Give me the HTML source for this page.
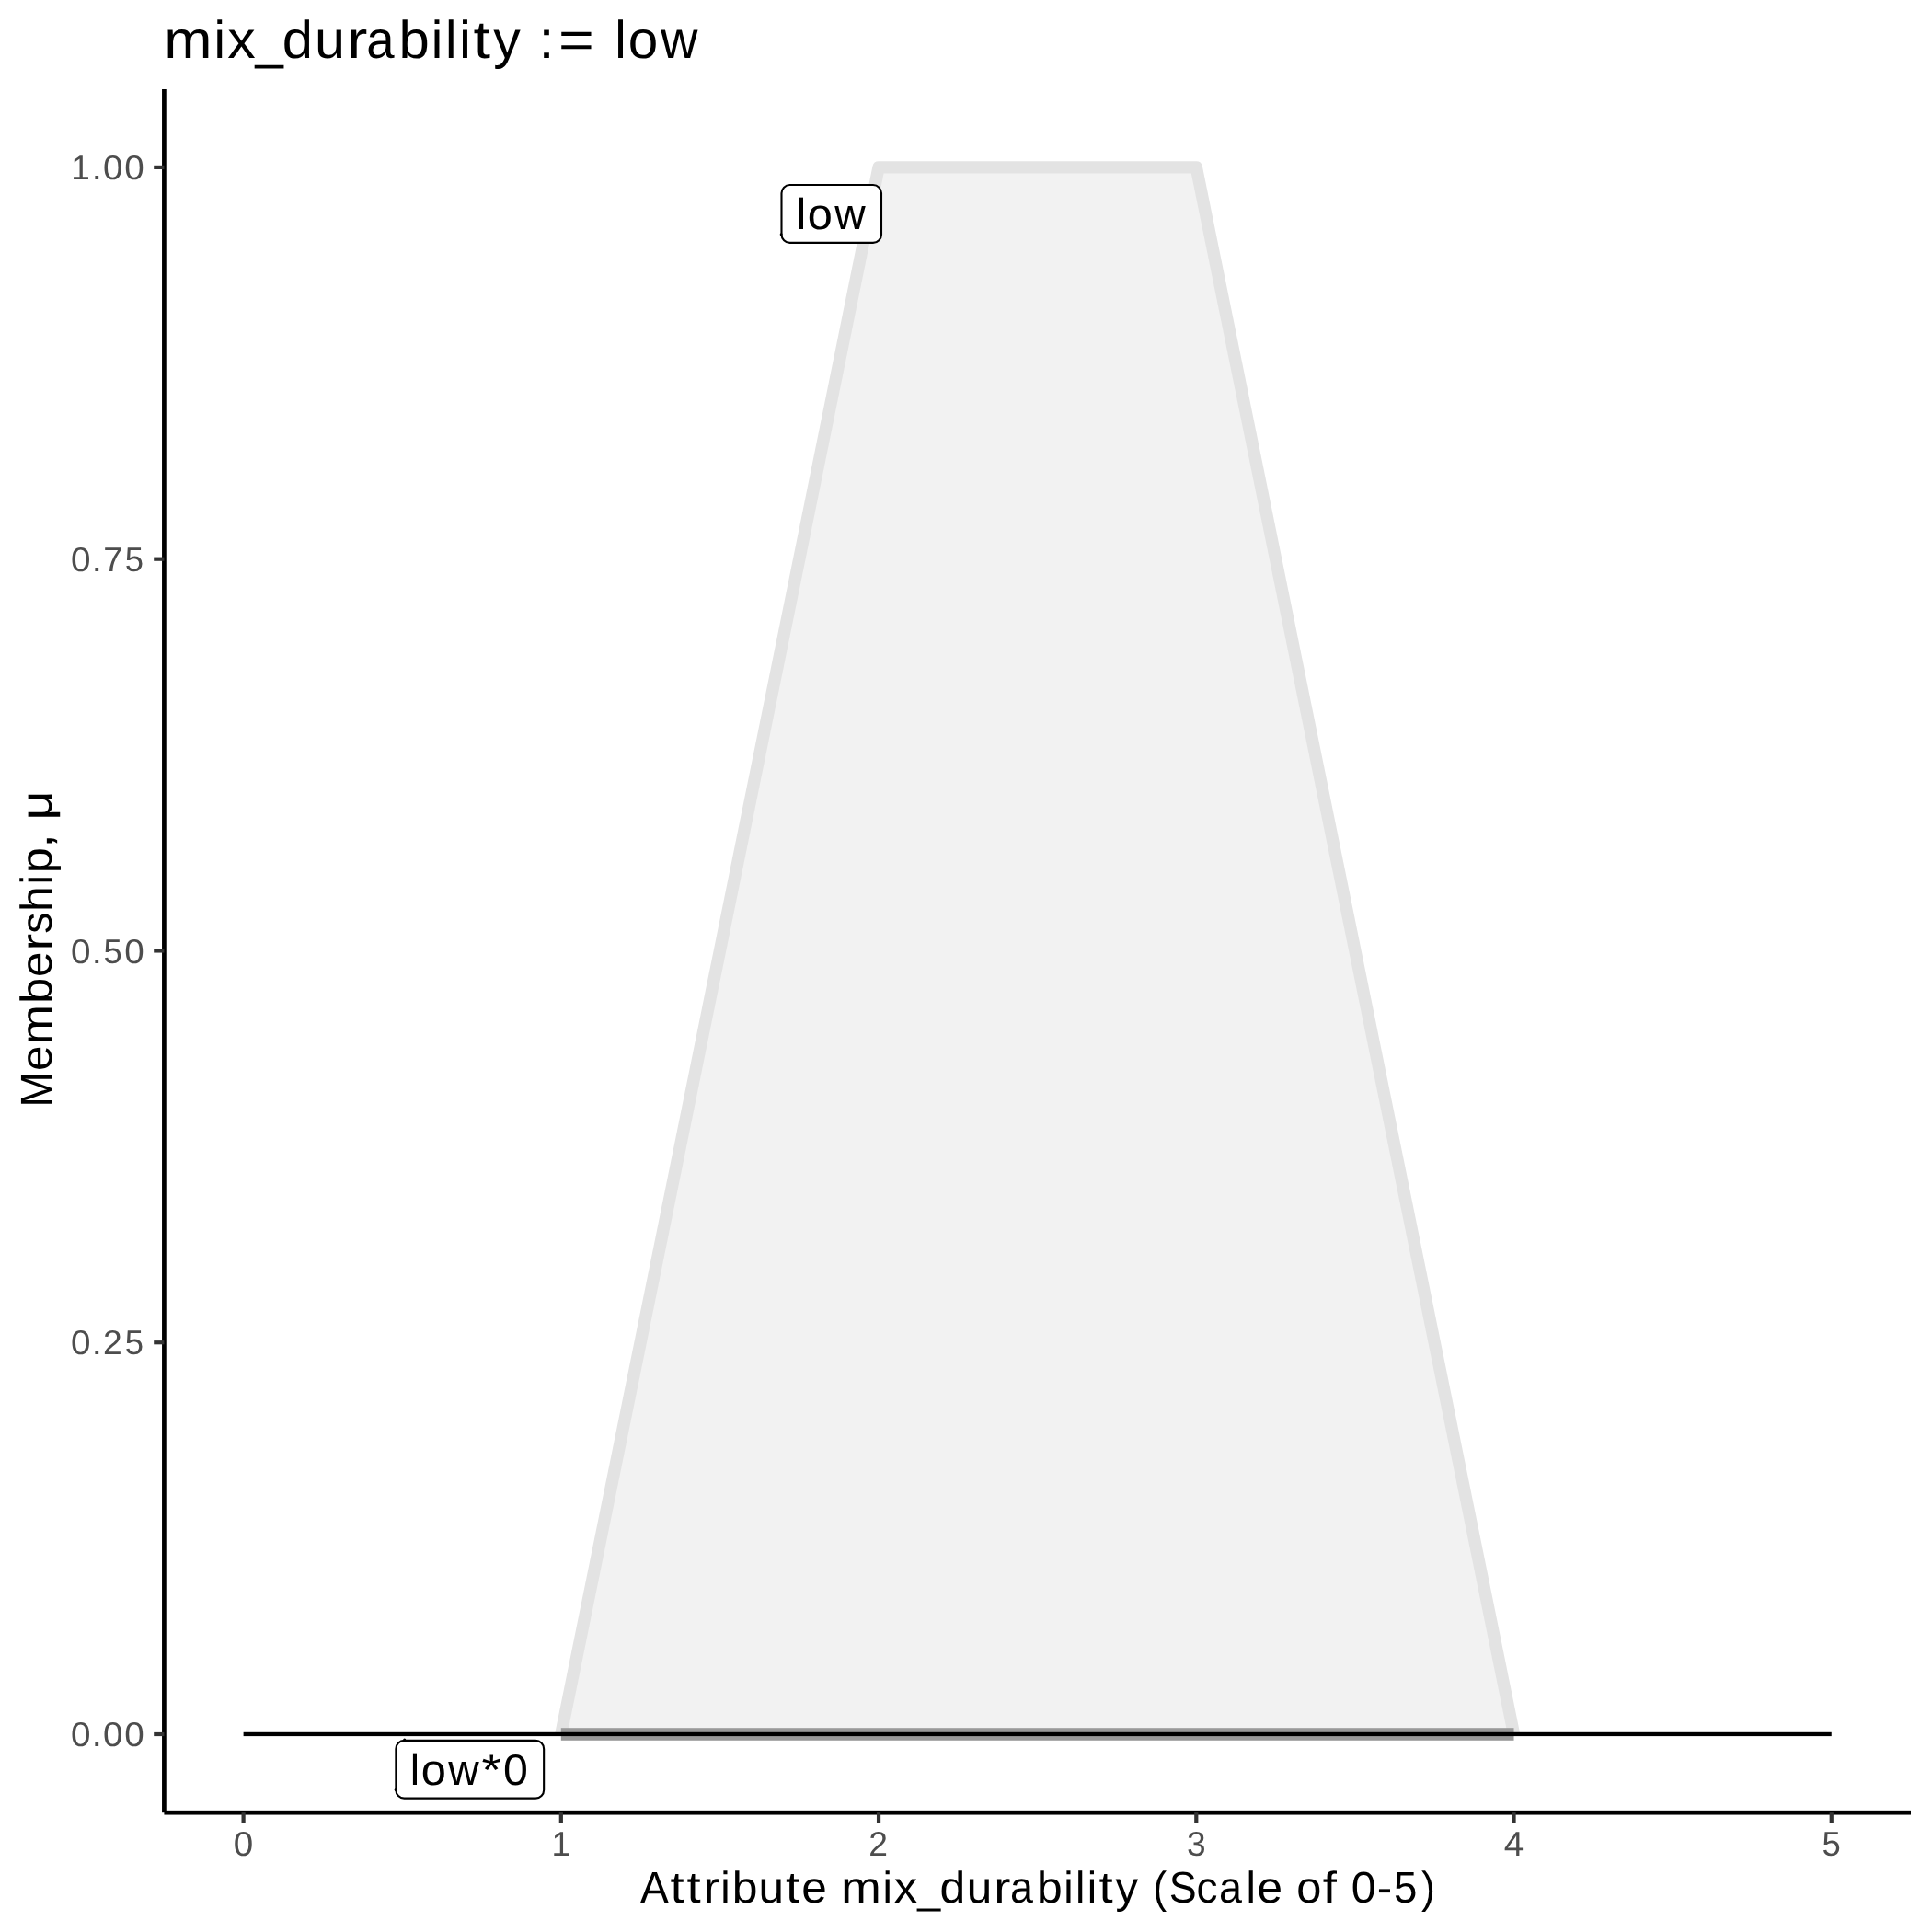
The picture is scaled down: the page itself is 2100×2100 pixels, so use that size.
<!DOCTYPE html>
<html><head><meta charset="utf-8"><style>
html,body{margin:0;padding:0;background:#fff;}
svg{display:block;will-change:transform;}
text{font-family:"Liberation Sans",sans-serif;text-rendering:geometricPrecision;}
</style></head><body>
<svg width="2100" height="2100" viewBox="0 0 2100 2100">
<rect x="0" y="0" width="2100" height="2100" fill="#fff"/>
<polygon points="609.83,1885.00 955.06,181.90 1300.29,181.90 1645.52,1885.00" fill="#f2f2f2"/>
<polyline points="609.83,1885.00 955.06,181.90 1300.29,181.90 1645.52,1885.00" fill="none" stroke="#e3e3e3" stroke-width="13.4" stroke-linejoin="round" stroke-linecap="butt"/>
<rect x="609.83" y="1878.2" width="1035.69" height="13.6" fill="#999"/>
<rect x="264.60" y="1882.8" width="1726.15" height="4.3" fill="#000"/>
<rect x="176.05" y="97" width="4.7" height="1873.20" fill="#000"/>
<rect x="178.40" y="1967.85" width="1898.60" height="4.7" fill="#000"/>
<rect x="167.2" y="1882.90" width="11.20" height="4.2" fill="#333"/>
<rect x="167.2" y="1457.12" width="11.20" height="4.2" fill="#333"/>
<rect x="167.2" y="1031.35" width="11.20" height="4.2" fill="#333"/>
<rect x="167.2" y="605.58" width="11.20" height="4.2" fill="#333"/>
<rect x="167.2" y="179.80" width="11.20" height="4.2" fill="#333"/>
<rect x="262.50" y="1970.20" width="4.2" height="11.20" fill="#333"/>
<rect x="607.73" y="1970.20" width="4.2" height="11.20" fill="#333"/>
<rect x="952.96" y="1970.20" width="4.2" height="11.20" fill="#333"/>
<rect x="1298.19" y="1970.20" width="4.2" height="11.20" fill="#333"/>
<rect x="1643.42" y="1970.20" width="4.2" height="11.20" fill="#333"/>
<rect x="1988.65" y="1970.20" width="4.2" height="11.20" fill="#333"/>
<g transform="translate(0,1898.05)" font-size="37.40" fill="#4d4d4d"><text transform="translate(77.01,0) scale(1.0335,1)">0</text><text transform="translate(99.73,0) scale(1.0608,1)">.</text><text transform="translate(112.00,0) scale(1.0335,1)">0</text><text transform="translate(135.33,0) scale(1.0335,1)">0</text></g>
<g transform="translate(0,1472.27)" font-size="37.40" fill="#4d4d4d"><text transform="translate(77.01,0) scale(1.0335,1)">0</text><text transform="translate(99.73,0) scale(1.0608,1)">.</text><text transform="translate(111.90,0) scale(0.9962,1)">2</text><text transform="translate(135.79,0) scale(0.9753,1)">5</text></g>
<g transform="translate(0,1046.50)" font-size="37.40" fill="#4d4d4d"><text transform="translate(77.01,0) scale(1.0335,1)">0</text><text transform="translate(99.73,0) scale(1.0608,1)">.</text><text transform="translate(112.46,0) scale(0.9753,1)">5</text><text transform="translate(135.33,0) scale(1.0335,1)">0</text></g>
<g transform="translate(0,620.73)" font-size="37.40" fill="#4d4d4d"><text transform="translate(77.01,0) scale(1.0335,1)">0</text><text transform="translate(99.73,0) scale(1.0608,1)">.</text><text transform="translate(112.16,0) scale(1.0109,1)">7</text><text transform="translate(135.79,0) scale(0.9753,1)">5</text></g>
<g transform="translate(0,194.95)" font-size="37.40" fill="#4d4d4d"><text transform="translate(77.32,0) scale(0.9871,1)">1</text><text transform="translate(99.73,0) scale(1.0608,1)">.</text><text transform="translate(112.00,0) scale(1.0335,1)">0</text><text transform="translate(135.33,0) scale(1.0335,1)">0</text></g>
<g transform="translate(0,2016.80)" font-size="37.40" fill="#4d4d4d"><text transform="translate(253.84,0) scale(1.0335,1)">0</text></g>
<g transform="translate(0,2016.80)" font-size="37.40" fill="#4d4d4d"><text transform="translate(599.38,0) scale(0.9871,1)">1</text></g>
<g transform="translate(0,2016.80)" font-size="37.40" fill="#4d4d4d"><text transform="translate(944.21,0) scale(0.9962,1)">2</text></g>
<g transform="translate(0,2016.80)" font-size="37.40" fill="#4d4d4d"><text transform="translate(1290.00,0) scale(0.9925,1)">3</text></g>
<g transform="translate(0,2016.80)" font-size="37.40" fill="#4d4d4d"><text transform="translate(1634.76,0) scale(1.0336,1)">4</text></g>
<g transform="translate(0,2016.80)" font-size="37.40" fill="#4d4d4d"><text transform="translate(1980.45,0) scale(0.9753,1)">5</text></g>
<g transform="translate(0,63.30)" font-size="57.67" fill="#000"><text transform="translate(178.23,0) scale(1.0867,1)">m</text><text transform="translate(232.40,0) scale(0.9749,1)">i</text><text transform="translate(247.16,0) scale(1.0580,1)">x</text><text transform="translate(277.49,0) scale(0.9463,1)">_</text><text transform="translate(306.83,0) scale(1.0366,1)">d</text><text transform="translate(342.04,0) scale(1.0283,1)">u</text><text transform="translate(377.16,0) scale(1.1520,1)">r</text><text transform="translate(398.36,0) scale(0.9463,1)">a</text><text transform="translate(433.53,0) scale(1.0376,1)">b</text><text transform="translate(468.73,0) scale(0.9749,1)">i</text><text transform="translate(483.98,0) scale(0.9749,1)">l</text><text transform="translate(499.29,0) scale(0.9749,1)">i</text><text transform="translate(514.52,0) scale(1.1520,1)">t</text><text transform="translate(536.21,0) scale(1.0242,1)">y</text><text transform="translate(585.76,0) scale(1.0320,1)">:</text><text transform="translate(606.93,0) scale(1.1520,1)">=</text><text transform="translate(668.24,0) scale(0.9749,1)">l</text><text transform="translate(682.70,0) scale(1.0139,1)">o</text><text transform="translate(718.16,0) scale(0.9640,1)">w</text></g>
<g transform="translate(0,2068.00)" font-size="48.05" fill="#000"><text transform="translate(696.11,0) scale(0.9608,1)">A</text><text transform="translate(728.45,0) scale(1.1354,1)">t</text><text transform="translate(746.42,0) scale(1.1354,1)">t</text><text transform="translate(764.19,0) scale(1.1354,1)">r</text><text transform="translate(783.16,0) scale(0.9749,1)">i</text><text transform="translate(795.66,0) scale(1.0376,1)">b</text><text transform="translate(824.48,0) scale(1.0283,1)">u</text><text transform="translate(854.11,0) scale(1.1354,1)">t</text><text transform="translate(871.24,0) scale(1.0301,1)">e</text><text transform="translate(914.27,0) scale(1.0867,1)">m</text><text transform="translate(959.41,0) scale(0.9749,1)">i</text><text transform="translate(971.71,0) scale(1.0580,1)">x</text><text transform="translate(997.16,0) scale(0.9326,1)">_</text><text transform="translate(1021.43,0) scale(1.0366,1)">d</text><text transform="translate(1050.77,0) scale(1.0283,1)">u</text><text transform="translate(1080.19,0) scale(1.1354,1)">r</text><text transform="translate(1097.90,0) scale(0.9326,1)">a</text><text transform="translate(1127.01,0) scale(1.0376,1)">b</text><text transform="translate(1156.33,0) scale(0.9749,1)">i</text><text transform="translate(1169.04,0) scale(0.9749,1)">l</text><text transform="translate(1181.80,0) scale(0.9749,1)">i</text><text transform="translate(1194.61,0) scale(1.1354,1)">t</text><text transform="translate(1212.56,0) scale(1.0242,1)">y</text><text transform="translate(1253.36,0) scale(0.9326,1)">(</text><text transform="translate(1270.73,0) scale(0.9326,1)">S</text><text transform="translate(1300.55,0) scale(0.9570,1)">c</text><text transform="translate(1325.10,0) scale(0.9326,1)">a</text><text transform="translate(1354.42,0) scale(0.9749,1)">l</text><text transform="translate(1366.42,0) scale(1.0301,1)">e</text><text transform="translate(1409.24,0) scale(1.0139,1)">o</text><text transform="translate(1437.82,0) scale(1.1354,1)">f</text><text transform="translate(1468.63,0) scale(1.0054,1)">0</text><text transform="translate(1496.70,0) scale(1.0281,1)">-</text><text transform="translate(1514.91,0) scale(0.9488,1)">5</text><text transform="translate(1544.96,0) scale(0.9326,1)">)</text></g>
<g transform="rotate(-90) translate(0,56.00)" font-size="48.05" fill="#000"><text transform="translate(-1203.47,0) scale(0.9621,1)">M</text><text transform="translate(-1164.03,0) scale(1.0301,1)">e</text><text transform="translate(-1135.57,0) scale(1.0867,1)">m</text><text transform="translate(-1090.67,0) scale(1.0376,1)">b</text><text transform="translate(-1062.10,0) scale(1.0301,1)">e</text><text transform="translate(-1033.60,0) scale(1.1713,1)">r</text><text transform="translate(-1014.79,0) scale(0.9621,1)">s</text><text transform="translate(-990.90,0) scale(1.0354,1)">h</text><text transform="translate(-961.38,0) scale(0.9749,1)">i</text><text transform="translate(-948.88,0) scale(1.0376,1)">p</text><text transform="translate(-921.74,0) scale(1.1713,1)">,</text><text transform="translate(-891.44,0) scale(1.1537,1)">μ</text></g>
<rect x="849.50" y="201.00" width="108.50" height="62.90" rx="9.0" ry="9.0" fill="#fff" stroke="#000" stroke-width="2.1"/><circle cx="849.2" cy="254.8" r="1.5" fill="#000"/><g transform="translate(0,248.90)" font-size="47.43" fill="#000"><text transform="translate(865.74,0) scale(0.9877,1)">l</text><text transform="translate(877.80,0) scale(1.0271,1)">o</text><text transform="translate(907.35,0) scale(0.9766,1)">w</text></g>
<rect x="430.36" y="1891.90" width="160.79" height="62.75" rx="9.0" ry="9.0" fill="#fff" stroke="#000" stroke-width="2.1"/><circle cx="439.7" cy="1890.9" r="1.5" fill="#000"/><circle cx="430.2" cy="1945.4" r="1.5" fill="#000"/><g transform="translate(0,1940.00)" font-size="47.43" fill="#000"><text transform="translate(445.74,0) scale(0.9877,1)">l</text><text transform="translate(457.80,0) scale(1.0271,1)">o</text><text transform="translate(487.35,0) scale(0.9766,1)">w</text><text transform="translate(523.59,0) scale(1.1578,1)">*</text><text transform="translate(546.89,0) scale(1.0185,1)">0</text></g>
</svg>
</body></html>
